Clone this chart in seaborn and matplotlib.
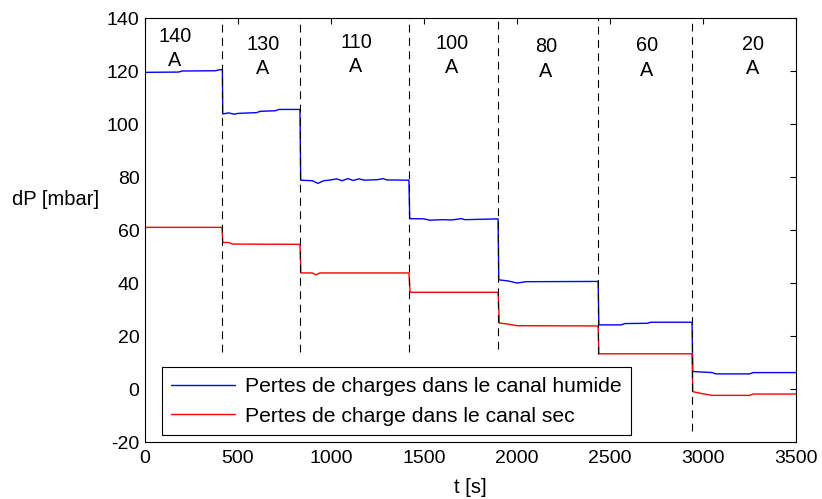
import matplotlib
matplotlib.use("Agg")
import matplotlib.pyplot as plt
import seaborn as sns
import pandas as pd

sns.set_theme(style="white")
plt.rcParams['font.family'] = ['Liberation Sans', 'DejaVu Sans']
plt.rcParams['text.color'] = 'black'
plt.rcParams['axes.labelcolor'] = 'black'
plt.rcParams['xtick.color'] = 'black'
plt.rcParams['ytick.color'] = 'black'
plt.rcParams['axes.unicode_minus'] = False

# Wet channel (blue)
t_humide = [0, 180, 200, 380, 400, 416, 418, 450, 480, 500, 600, 620, 700, 720, 833,
            837, 900, 930, 960, 1000, 1030, 1060, 1090, 1120, 1150, 1180, 1250, 1280, 1300, 1419,
            1423, 1500, 1530, 1600, 1650, 1700, 1720, 1898,
            1902, 1950, 2000, 2050, 2436,
            2440, 2560, 2580, 2700, 2720, 2941,
            2945, 3050, 3070, 3250, 3270, 3500]
dp_humide = [119.5, 119.6, 120.0, 120.1, 120.5, 120.5, 103.8, 104.2, 103.7, 104.0, 104.3, 104.8, 105.0, 105.5, 105.5,
             78.8, 78.6, 77.6, 78.6, 78.9, 79.3, 78.6, 79.4, 78.7, 79.3, 78.8, 79.0, 79.4, 78.9, 78.8,
             64.3, 64.2, 63.7, 63.9, 63.8, 64.3, 63.9, 64.2,
             41.2, 40.8, 40.0, 40.5, 40.6,
             24.2, 24.2, 24.7, 24.8, 25.2, 25.2,
             6.6, 6.2, 5.7, 5.7, 6.2, 6.2]

# Dry channel (red)
t_sec = [0, 414, 418, 450, 470, 833,
         838, 900, 920, 940, 1419,
         1425, 1898,
         1905, 1950, 2000, 2436,
         2440, 2941,
         2945, 3000, 3050, 3250, 3270, 3500]
dp_sec = [61.0, 61.0, 55.3, 55.3, 54.7, 54.6,
          43.8, 43.8, 43.1, 43.8, 43.8,
          36.5, 36.5,
          24.9, 24.5, 23.9, 23.8,
          13.3, 13.3,
          -1.0, -1.8, -2.4, -2.4, -1.9, -1.9]

# Current change boundaries and end of dashed markers
t_bornes = [414, 833, 1419, 1898, 2436, 2941]
y_bas_bornes = [14, 14, 14, 15, 13.3, -16]

# Current labels
courants = ["140", "130", "110", "100", "80", "60", "20"]
t_labels = [161, 634, 1134, 1650, 2156, 2699, 3269]
y_labels = [128.5, 125.5, 126.2, 125.8, 124.5, 124.9, 125.5]

df_h = pd.DataFrame({"t": t_humide, "dP": dp_humide})
df_s = pd.DataFrame({"t": t_sec, "dP": dp_sec})

fig = plt.figure(figsize=(8.22, 4.99), dpi=100)
ax = fig.add_axes([0.1764, 0.1142, 0.7920, 0.8497])

sns.lineplot(data=df_h, x="t", y="dP", ax=ax, color="#0000ff", lw=1.0,
             sort=False, estimator=None, label="Pertes de charges dans le canal humide")
sns.lineplot(data=df_s, x="t", y="dP", ax=ax, color="#ff0000", lw=1.0,
             sort=False, estimator=None, label="Pertes de charge dans le canal sec")

ax.vlines(t_bornes, y_bas_bornes, 140, colors="black", lw=0.8, linestyles=(0, (7, 5)))

for lab, tx, ty in zip(courants, t_labels, y_labels):
    ax.text(tx, ty, lab + "\nA", ha="center", va="center", fontsize=14.3,
            linespacing=1.35, color="black")

ax.set_xlim(0, 3500)
ax.set_ylim(-20, 140)
ax.set_xticks(range(0, 3501, 500))
ax.set_yticks(range(-20, 141, 20))
ax.tick_params(direction="in", length=4, width=0.8, top=True, right=True,
               labelsize=14, colors="black", pad=4)
ax.tick_params(axis="x", pad=6)
for s in ax.spines.values():
    s.set_color("black")
    s.set_linewidth(0.8)

ax.set_xlabel("t [s]", fontsize=14.5, labelpad=8, color="black")
ax.set_ylabel("dP [mbar]", fontsize=14.5, rotation=0, color="black")
ax.yaxis.set_label_coords(-0.138, 0.571)
ax.yaxis.label.set_horizontalalignment("center")
ax.yaxis.label.set_verticalalignment("center")

leg = ax.legend(loc="lower left", bbox_to_anchor=(0.026, 0.0165), fontsize=15.2,
                frameon=True, fancybox=False, edgecolor="black", framealpha=1,
                handlelength=3.0, handletextpad=0.5, labelspacing=0.5, borderpad=0.45,
                borderaxespad=0)
leg.get_frame().set_linewidth(0.8)
for txt in leg.get_texts():
    txt.set_color("black")

fig.savefig("out.png", dpi=100)
